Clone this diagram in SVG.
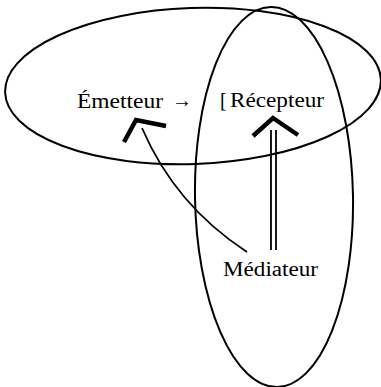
<svg xmlns="http://www.w3.org/2000/svg" width="381" height="387" viewBox="0 0 381 387">
<style>
.ell{fill:none;stroke:#000;stroke-width:2}
.ln{fill:none;stroke:#000;stroke-width:1.8}
.hd{fill:none;stroke:#000;stroke-width:4.5;stroke-linejoin:miter;stroke-linecap:butt}
text{font-family:"Liberation Serif","Times New Roman",serif;font-size:20px;fill:#000}
</style>
<rect width="381" height="387" fill="#fff"/>
<g id="ellipse-h"><ellipse class="ell" cx="193" cy="86" rx="188" ry="78" transform="rotate(-2 193 86)"/></g>
<g id="ellipse-v"><ellipse class="ell" cx="274" cy="197" rx="79" ry="190" transform="rotate(-1 274 197)"/></g>
<g id="emetteur"><text x="77" y="108" textLength="86" lengthAdjust="spacingAndGlyphs">Émetteur</text><text x="172" y="107" textLength="20" lengthAdjust="spacingAndGlyphs">→</text></g>
<g id="recepteur"><text x="220" y="107" fill="#555" font-size="17">[</text><text x="230" y="107" textLength="94" lengthAdjust="spacingAndGlyphs">Récepteur</text></g>
<g id="mediateur"><text x="223" y="276" textLength="95" lengthAdjust="spacingAndGlyphs">Médiateur</text></g>
<g id="connectors">
<path class="ln" d="M247,252 Q175,205 142,128"/>
<path class="hd" d="M124,142 L136,120 L166,126"/>
<line class="ln" x1="271" y1="130" x2="271" y2="250"/>
<line class="ln" x1="276" y1="130" x2="276" y2="250"/>
<path class="hd" d="M253,136 L273,118 L298,135"/>
</g>
</svg>
